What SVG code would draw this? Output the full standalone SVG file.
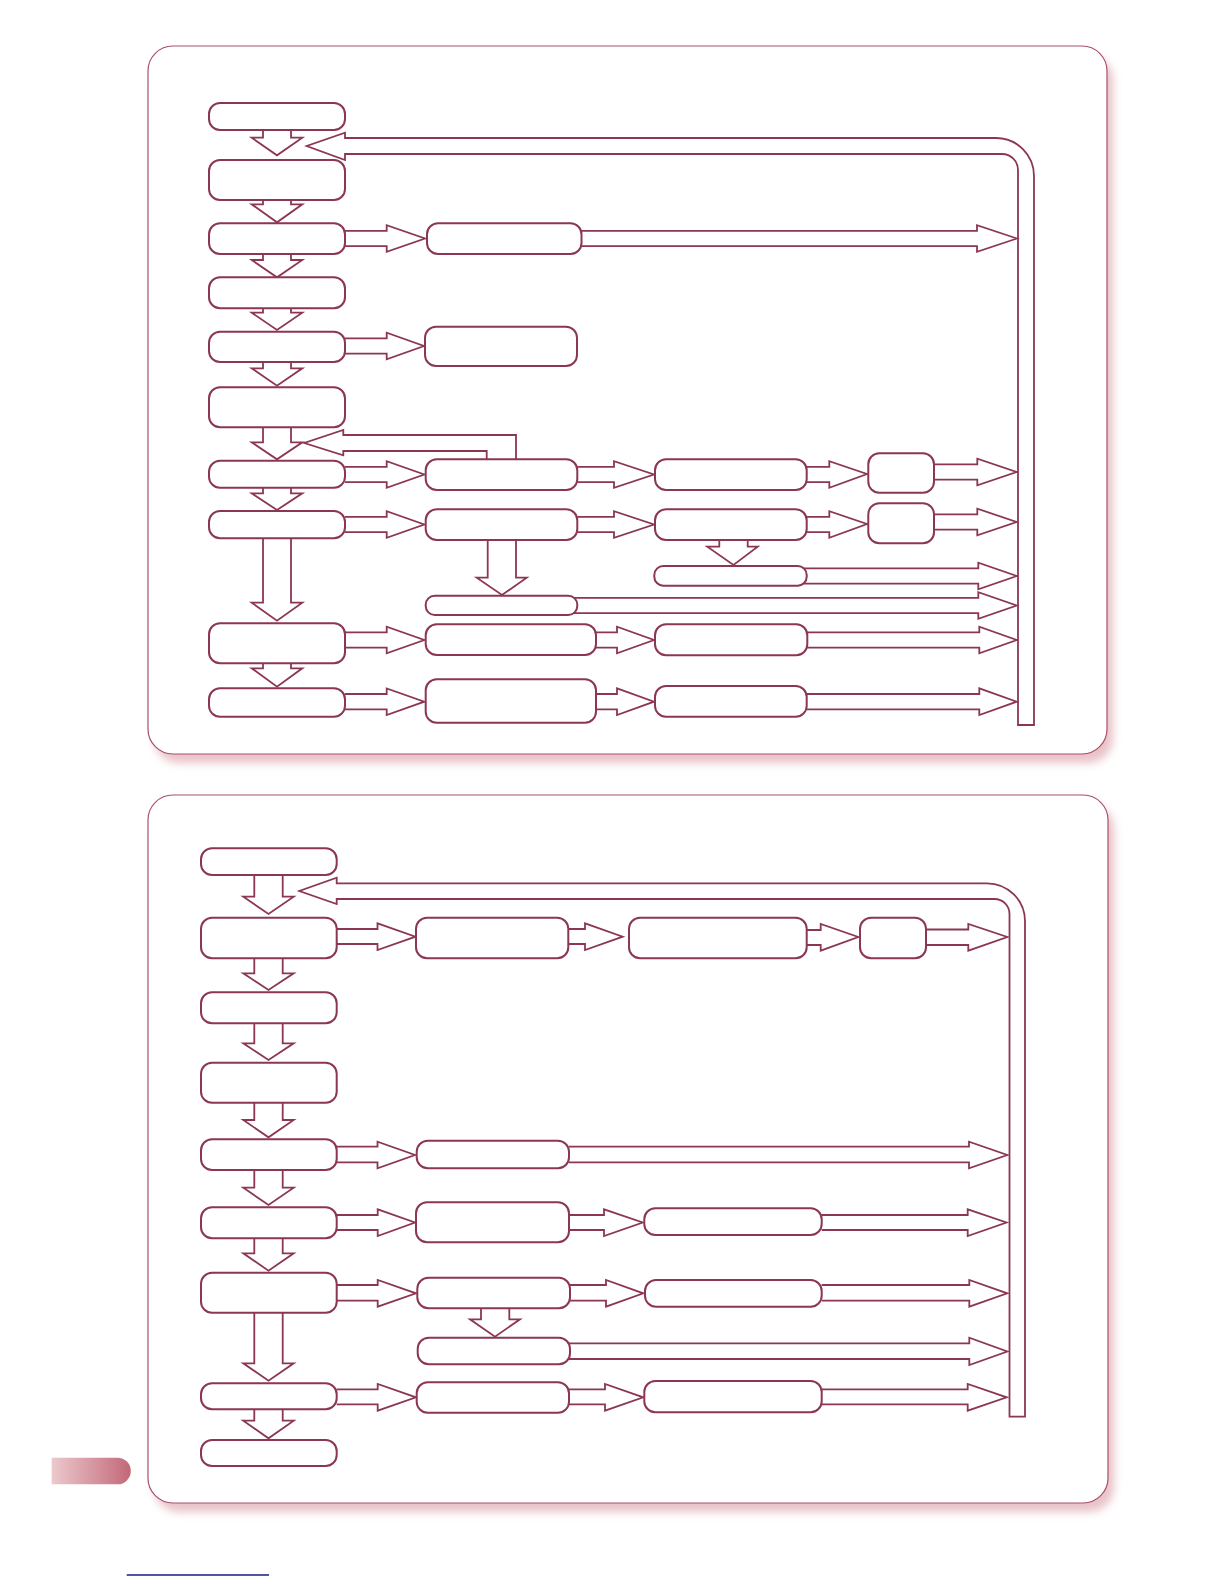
<svg xmlns="http://www.w3.org/2000/svg" width="1224" height="1584" viewBox="0 0 1224 1584">
<style>
.panel{fill:#fff;stroke:#a9506c;stroke-width:1.2}
.shadow{fill:#e9c2c8}
.node{fill:#fff;stroke:#8c3656;stroke-width:2}
.arr{fill:#fff;stroke:#8c3656;stroke-width:1.8;stroke-linejoin:miter}
</style>
<defs>
<filter id="blur" x="-5%" y="-5%" width="110%" height="110%"><feGaussianBlur stdDeviation="4"/></filter>
<linearGradient id="tabg" x1="0" y1="0" x2="1" y2="0">
<stop offset="0" stop-color="#ecc9cd"/>
<stop offset="1" stop-color="#c26878"/>
</linearGradient>
</defs>
<rect width="1224" height="1584" fill="#fff"/>

<g id="panel1-bg">
<rect class="shadow" x="154" y="55" width="959" height="708" rx="25" filter="url(#blur)"/>
<rect class="panel" x="148" y="46" width="959" height="708" rx="25"/>
</g>
<g id="panel2-bg">
<rect class="shadow" x="154" y="804" width="960" height="708" rx="25" filter="url(#blur)"/>
<rect class="panel" x="148" y="795" width="960" height="708" rx="25"/>
</g>

<g id="connectors">
<!-- panel 1 loop bar -->
<path class="arr" d="M1018,725 L1018,170 A16,16 0 0 0 1002,154 L345,154 L345,160 L306.7,146 L345,132.7 L345,138 L996,138 A38,38 0 0 1 1034,176 L1034,725 Z"/>
<!-- panel 1 down arrows left column -->
<path class="arr" d="M263,130 L263,137.7 L251.7,137.7 L277,155.3 L302.3,137.7 L291,137.7 L291,130"/>
<path class="arr" d="M263,200 L263,204.3 L251.7,204.3 L277,222.3 L302.3,204.3 L291,204.3 L291,200"/>
<path class="arr" d="M263,254 L263,260 L251.7,260 L277,277.3 L302.3,260 L291,260 L291,254"/>
<path class="arr" d="M263,308.3 L263,312.7 L251.7,312.7 L277,330 L302.3,312.7 L291,312.7 L291,308.3"/>
<path class="arr" d="M263,362 L263,368.3 L251.7,368.3 L277,385.7 L302.3,368.3 L291,368.3 L291,362"/>
<path class="arr" d="M263,427.3 L263,442.3 L251.7,442.3 L277,459.3 L302.3,442.3 L291,442.3 L291,427.3"/>
<path class="arr" d="M263,487.7 L263,493.3 L251.7,493.3 L277,510 L302.3,493.3 L291,493.3 L291,487.7"/>
<path class="arr" d="M263,538.3 L263,602.7 L251.7,602.7 L277,620.7 L302.3,602.7 L291,602.7 L291,538.3"/>
<path class="arr" d="M263,663.3 L263,668.3 L251.7,668.3 L277,686.7 L302.3,668.3 L291,668.3 L291,663.3"/>
<!-- feedback from B7 -->
<path class="arr" d="M486.7,459.3 L486.7,451 L343.3,451 L343.3,455.3 L304.3,443 L343.3,430 L343.3,435 L516,435 L516,459.3"/>
<!-- panel 1 A->B arrows -->
<path class="arr" d="M345,230.8 L386.7,230.8 L386.7,225.2 L425,238.5 L386.7,251.8 L386.7,246.2 L345,246.2"/>
<path class="arr" d="M345,338.3 L386.7,338.3 L386.7,332.7 L424,346 L386.7,359.3 L386.7,353.7 L345,353.7"/>
<path class="arr" d="M345,466.8 L386.7,466.8 L386.7,461.2 L424.3,474.5 L386.7,487.8 L386.7,482.2 L345,482.2"/>
<path class="arr" d="M345,516.8 L386.7,516.8 L386.7,511.2 L424.3,524.5 L386.7,537.8 L386.7,532.2 L345,532.2"/>
<path class="arr" d="M345,632.3 L386.7,632.3 L386.7,626.7 L424.3,640 L386.7,653.3 L386.7,647.7 L345,647.7"/>
<path class="arr" d="M345,694 L386.7,694 L386.7,688.4 L424.3,701.7 L386.7,715 L386.7,709.4 L345,709.4"/>
<!-- B->C -->
<path class="arr" d="M577.3,466.8 L614,466.8 L614,461.2 L654,474.5 L614,487.8 L614,482.2 L577.3,482.2"/>
<path class="arr" d="M577.3,516.8 L614,516.8 L614,511.2 L654,524.5 L614,537.8 L614,532.2 L577.3,532.2"/>
<path class="arr" d="M596,632.3 L617,632.3 L617,626.7 L654,640 L617,653.3 L617,647.7 L596,647.7"/>
<path class="arr" d="M596,694 L617,694 L617,688.4 L654,701.7 L617,715 L617,709.4 L596,709.4"/>
<!-- C->D -->
<path class="arr" d="M806.7,466.8 L829.3,466.8 L829.3,461.2 L867,474 L829.3,487.8 L829.3,482.2 L806.7,482.2"/>
<path class="arr" d="M806.7,516.8 L829.3,516.8 L829.3,511.2 L867,524 L829.3,537.8 L829.3,532.2 L806.7,532.2"/>
<!-- long arrows to bar -->
<path class="arr" d="M581.5,230.8 L977,230.8 L977,225.2 L1017,238.5 L977,251.8 L977,246.2 L581.5,246.2"/>
<path class="arr" d="M934,464.3 L977.3,464.3 L977.3,458.7 L1016.5,472 L977.3,485.3 L977.3,479.7 L934,479.7"/>
<path class="arr" d="M934,514.3 L977.3,514.3 L977.3,508.7 L1016.5,522 L977.3,535.3 L977.3,529.7 L934,529.7"/>
<path class="arr" d="M800,568.3 L978.3,568.3 L978.3,562.7 L1016.7,576 L978.3,589.3 L978.3,583.7 L800,583.7"/>
<path class="arr" d="M571,597.8 L978.3,597.8 L978.3,592.2 L1016.7,605.5 L978.3,618.8 L978.3,613.2 L571,613.2"/>
<path class="arr" d="M807.3,632.3 L979.3,632.3 L979.3,626.7 L1016.7,640 L979.3,653.3 L979.3,647.7 L807.3,647.7"/>
<path class="arr" d="M806.7,694 L979.3,694 L979.3,688.4 L1016.7,701.7 L979.3,715 L979.3,709.4 L806.7,709.4"/>
<!-- B8 -> B8b and C8 -> C8b -->
<path class="arr" d="M487.7,540 L487.7,577.7 L476.7,577.7 L502,595 L526.7,577.7 L516,577.7 L516,540"/>
<path class="arr" d="M719.3,540 L719.3,546.7 L707.3,546.7 L733.5,565 L757.7,546.7 L747.7,546.7 L747.7,540"/>

<!-- panel 2 loop bar -->
<path class="arr" d="M1009.5,1416.7 L1009.5,914 A15,15 0 0 0 994.5,899 L336.7,899 L336.7,904 L299.3,891 L336.7,877.7 L336.7,883.3 L987,883.3 A38,38 0 0 1 1025,921.3 L1025,1416.7 Z"/>
<!-- panel 2 down arrows -->
<path class="arr" d="M254.3,875 L254.3,896.7 L243.3,896.7 L268.5,914 L293.7,896.7 L282.7,896.7 L282.7,875"/>
<path class="arr" d="M254.3,958.3 L254.3,973.3 L243.3,973.3 L268.5,990 L293.7,973.3 L282.7,973.3 L282.7,958.3"/>
<path class="arr" d="M254.3,1023.3 L254.3,1043.3 L243.3,1043.3 L268.5,1060 L293.7,1043.3 L282.7,1043.3 L282.7,1023.3"/>
<path class="arr" d="M254.3,1102.7 L254.3,1120 L243.3,1120 L268.5,1137.3 L293.7,1120 L282.7,1120 L282.7,1102.7"/>
<path class="arr" d="M254.3,1170 L254.3,1187.7 L243.3,1187.7 L268.5,1205 L293.7,1187.7 L282.7,1187.7 L282.7,1170"/>
<path class="arr" d="M254.3,1238.3 L254.3,1253.3 L243.3,1253.3 L268.5,1270.7 L293.7,1253.3 L282.7,1253.3 L282.7,1238.3"/>
<path class="arr" d="M254.3,1312.7 L254.3,1363.3 L243.3,1363.3 L268.5,1380.7 L293.7,1363.3 L282.7,1363.3 L282.7,1312.7"/>
<path class="arr" d="M254.3,1409.3 L254.3,1420.7 L243.3,1420.7 L268.5,1438.3 L293.7,1420.7 L282.7,1420.7 L282.7,1409.3"/>
<path class="arr" d="M481,1308.3 L481,1319.3 L470,1319.3 L495,1336.7 L520,1319.3 L509.3,1319.3 L509.3,1308.3"/>
<!-- P->Q -->
<path class="arr" d="M336.7,929 L377.5,929 L377.5,923.3 L415.5,936.7 L377.5,950 L377.5,944 L336.7,944"/>
<path class="arr" d="M336.7,1146.7 L377.5,1146.7 L377.5,1141.7 L415,1155 L377.5,1168.3 L377.5,1162.3 L336.7,1162.3"/>
<path class="arr" d="M336.7,1215 L377.7,1215 L377.7,1209.3 L415,1222.5 L377.7,1236 L377.7,1230 L336.7,1230"/>
<path class="arr" d="M336.7,1285 L377.7,1285 L377.7,1280 L416,1293.3 L377.7,1306.7 L377.7,1300.7 L336.7,1300.7"/>
<path class="arr" d="M336.7,1389.3 L377.7,1389.3 L377.7,1384 L416,1397.3 L377.7,1410.7 L377.7,1404.3 L336.7,1404.3"/>
<!-- Q->R -->
<path class="arr" d="M568.3,929 L585,929 L585,923.3 L622.7,936.7 L585,950 L585,944 L568.3,944"/>
<path class="arr" d="M569,1215 L604,1215 L604,1209.3 L642.7,1222.5 L604,1236 L604,1230 L569,1230"/>
<path class="arr" d="M570,1285 L606,1285 L606,1280 L643.3,1293.3 L606,1306.7 L606,1300.7 L570,1300.7"/>
<path class="arr" d="M569,1389.3 L605,1389.3 L605,1384 L643.3,1397.3 L605,1410.7 L605,1404.3 L569,1404.3"/>
<!-- R2->S2 -->
<path class="arr" d="M806.7,930 L820.7,930 L820.7,924 L858.3,937 L820.7,950.7 L820.7,945 L806.7,945"/>
<!-- long arrows to bar, panel 2 -->
<path class="arr" d="M926,929.5 L968.3,929.5 L968.3,924 L1007.3,937 L968.3,950.7 L968.3,945 L926,945"/>
<path class="arr" d="M569,1146.7 L969,1146.7 L969,1141.7 L1007.3,1155 L969,1168.3 L969,1162.3 L569,1162.3"/>
<path class="arr" d="M821.7,1215 L967.7,1215 L967.7,1209.3 L1006.5,1222.5 L967.7,1236 L967.7,1230 L821.7,1230"/>
<path class="arr" d="M821.7,1285 L969.3,1285 L969.3,1280 L1007.3,1293.3 L969.3,1306.7 L969.3,1300.7 L821.7,1300.7"/>
<path class="arr" d="M565,1343.3 L969.3,1343.3 L969.3,1337.7 L1007.3,1351.5 L969.3,1365 L969.3,1359 L565,1359"/>
<path class="arr" d="M821.7,1389.3 L967.7,1389.3 L967.7,1384 L1006.7,1397.3 L967.7,1410.7 L967.7,1404.3 L821.7,1404.3"/>
</g>

<!-- panel 1 nodes -->
<g id="n-A1"><rect class="node" x="209" y="103" width="136" height="27" rx="11"/></g>
<g id="n-A2"><rect class="node" x="209" y="160" width="136" height="40" rx="11"/></g>
<g id="n-A3"><rect class="node" x="209" y="223.3" width="136" height="30.7" rx="11"/></g>
<g id="n-A4"><rect class="node" x="209" y="277.3" width="136" height="31" rx="11"/></g>
<g id="n-A5"><rect class="node" x="209" y="331.7" width="136" height="30.3" rx="11"/></g>
<g id="n-A6"><rect class="node" x="209" y="387.3" width="136" height="40" rx="11"/></g>
<g id="n-A7"><rect class="node" x="209" y="460.7" width="136" height="27" rx="11"/></g>
<g id="n-A8"><rect class="node" x="209" y="511" width="136" height="27.3" rx="11"/></g>
<g id="n-A9"><rect class="node" x="209" y="623.3" width="136" height="40" rx="11"/></g>
<g id="n-A10"><rect class="node" x="209" y="688.3" width="136" height="28.4" rx="11"/></g>
<g id="n-B3"><rect class="node" x="427" y="223.3" width="154.5" height="30.7" rx="11"/></g>
<g id="n-B5"><rect class="node" x="425" y="326.7" width="152" height="39.3" rx="11"/></g>
<g id="n-B7"><rect class="node" x="425.7" y="459.3" width="151.6" height="30.7" rx="11"/></g>
<g id="n-B8"><rect class="node" x="425.7" y="509.3" width="151.6" height="30.7" rx="11"/></g>
<g id="n-B8b"><rect class="node" x="425.7" y="595.7" width="151.6" height="19.3" rx="9"/></g>
<g id="n-B9"><rect class="node" x="425.7" y="624.3" width="170.3" height="30.7" rx="11"/></g>
<g id="n-B10"><rect class="node" x="425.7" y="679.3" width="170.3" height="43.4" rx="11"/></g>
<g id="n-C7"><rect class="node" x="655" y="459.3" width="151.7" height="30.7" rx="11"/></g>
<g id="n-C8"><rect class="node" x="655" y="509.3" width="151.7" height="30.7" rx="11"/></g>
<g id="n-C8b"><rect class="node" x="654.3" y="566" width="152.4" height="19.7" rx="9"/></g>
<g id="n-C9"><rect class="node" x="655" y="624.3" width="152.3" height="31" rx="11"/></g>
<g id="n-C10"><rect class="node" x="655" y="686" width="151.7" height="30.7" rx="11"/></g>
<g id="n-D7"><rect class="node" x="868.3" y="453.3" width="65.7" height="39.4" rx="11"/></g>
<g id="n-D8"><rect class="node" x="868.3" y="503.3" width="65.7" height="40" rx="11"/></g>

<!-- panel 2 nodes -->
<g id="n-P1"><rect class="node" x="201" y="848.3" width="135.7" height="26.7" rx="11"/></g>
<g id="n-P2"><rect class="node" x="201" y="917.7" width="135.7" height="40.6" rx="11"/></g>
<g id="n-P3"><rect class="node" x="201" y="992.3" width="135.7" height="31" rx="11"/></g>
<g id="n-P4"><rect class="node" x="201" y="1062.7" width="135.7" height="40" rx="11"/></g>
<g id="n-P5"><rect class="node" x="201" y="1139.3" width="135.7" height="30.7" rx="11"/></g>
<g id="n-P6"><rect class="node" x="201" y="1207.3" width="135.7" height="31" rx="11"/></g>
<g id="n-P7"><rect class="node" x="201" y="1272.7" width="135.7" height="40" rx="11"/></g>
<g id="n-P8"><rect class="node" x="201" y="1383.3" width="135.7" height="26" rx="11"/></g>
<g id="n-P9"><rect class="node" x="201" y="1440" width="135.7" height="26" rx="11"/></g>
<g id="n-Q2"><rect class="node" x="416" y="917.7" width="152.3" height="40.6" rx="11"/></g>
<g id="n-Q5"><rect class="node" x="416.7" y="1140.7" width="152.3" height="27.6" rx="11"/></g>
<g id="n-Q6"><rect class="node" x="416" y="1202.3" width="153" height="40" rx="11"/></g>
<g id="n-Q7"><rect class="node" x="417.3" y="1277.7" width="152.7" height="30.6" rx="11"/></g>
<g id="n-Q7b"><rect class="node" x="417.7" y="1337.7" width="152.3" height="26.6" rx="11"/></g>
<g id="n-Q8"><rect class="node" x="416.7" y="1382.3" width="152.3" height="30.4" rx="11"/></g>
<g id="n-R2"><rect class="node" x="629" y="917.7" width="177.7" height="40.6" rx="11"/></g>
<g id="n-R6"><rect class="node" x="644.3" y="1208.3" width="177.4" height="26.7" rx="11"/></g>
<g id="n-R7"><rect class="node" x="645" y="1280" width="176.7" height="26.7" rx="11"/></g>
<g id="n-R8"><rect class="node" x="644.3" y="1381" width="177.4" height="31.3" rx="11"/></g>
<g id="n-S2"><rect class="node" x="860" y="917.7" width="66" height="40.6" rx="11"/></g>

<!-- page decorations -->
<path d="M51.7,1457.7 L117.5,1457.7 A13.3,13.3 0 0 1 117.5,1484.3 L51.7,1484.3 Z" fill="url(#tabg)"/>
<line x1="126.7" y1="1575" x2="269" y2="1575" stroke="#1c1c8a" stroke-width="1.6"/>
</svg>
